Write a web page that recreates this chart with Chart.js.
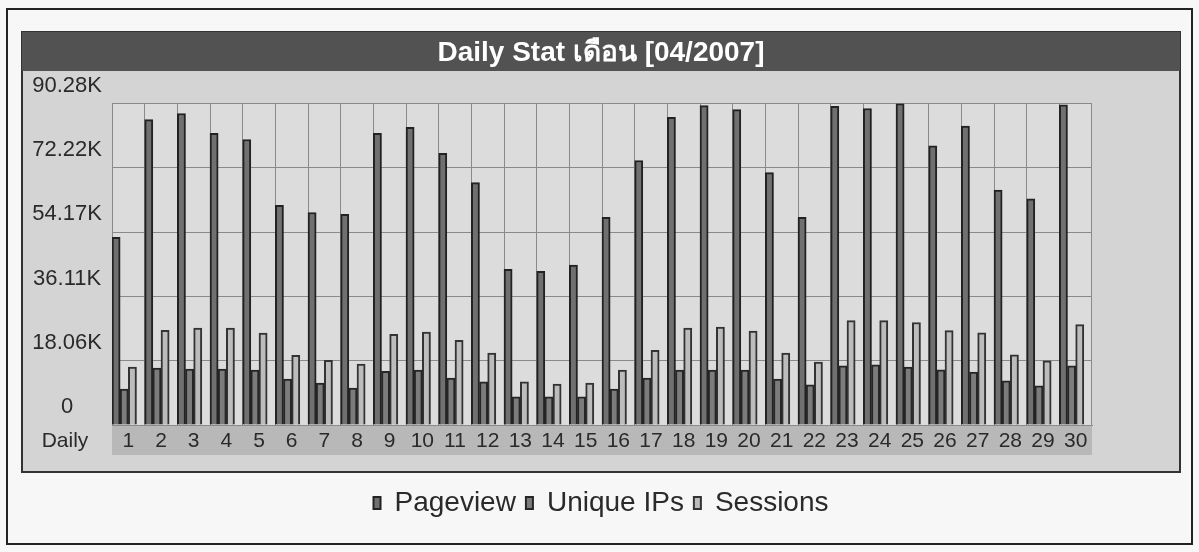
<!DOCTYPE html>
<html>
<head>
<meta charset="utf-8">
<script src="https://cdn.jsdelivr.net/npm/chart.js@4.4.1/dist/chart.umd.min.js"></script>
<style>
  html, body { margin: 0; padding: 0; background: #f7f7f7; }
  #wrap { width: 1199px; height: 552px; position: relative; }
</style>
</head>
<body>
<div id="wrap"><canvas id="chart-daily"></canvas></div>
<script>
var days = ['1', '2', '3', '4', '5', '6', '7', '8', '9', '10', '11', '12', '13', '14', '15',
  '16', '17', '18', '19', '20', '21', '22', '23', '24', '25', '26', '27', '28', '29', '30'];

var pageview = [52700, 85800, 87500, 81900, 80200, 61700, 59700, 59200, 81900, 83600,
  76300, 68100, 43700, 43200, 44900, 58300, 74300, 86400, 89700, 88600,
  70900, 58300, 89500, 88900, 90280, 78400, 84000, 66000, 63500, 89900];

var uniqueIps = [10100, 16000, 15700, 15700, 15400, 12900, 11800, 10400, 15100, 15400,
  13200, 12100, 7900, 7900, 7900, 10100, 13200, 15400, 15400, 15400,
  12900, 11300, 16600, 16900, 16300, 15500, 14900, 12400, 11000, 16600];

var sessions = [16300, 26600, 27200, 27200, 25800, 19600, 18200, 17100, 25500, 26100,
  23800, 20200, 12100, 11500, 11800, 15400, 21000, 27200, 27500, 26400,
  20200, 17700, 29300, 29300, 28800, 26500, 25900, 19700, 18000, 28200];

var yTickLabels = ['0', '18.06K', '36.11K', '54.17K', '72.22K', '90.28K'];
var yStep = 18056;
var yMax = 90280;

var chartTitle = 'Daily Stat เดือน [04/2007]';
var xAxisName = 'Daily';

(function () {
  var canvas = document.getElementById('chart-daily');
  if (!canvas || typeof Chart === 'undefined') {
    return;
  }

  // panel, title bar, plot and label strip behind the chart
  var backdrop = {
    id: 'backdrop',
    beforeDraw: function (chart) {
      var ctx = chart.ctx;
      var area = chart.chartArea;
      ctx.save();
      ctx.fillStyle = '#f7f7f7';
      ctx.fillRect(0, 0, chart.width, chart.height);

      ctx.strokeStyle = '#222';
      ctx.lineWidth = 2;
      ctx.strokeRect(7, 9, 1185, 535);

      ctx.fillStyle = '#d4d4d4';
      ctx.fillRect(22, 32, 1158, 440);
      ctx.strokeStyle = '#333';
      ctx.lineWidth = 2;
      ctx.strokeRect(22, 32, 1158, 440);

      ctx.fillStyle = '#525252';
      ctx.fillRect(22, 32, 1158, 39);

      ctx.fillStyle = '#dcdcdc';
      ctx.fillRect(area.left, area.top, area.right - area.left, area.bottom - area.top);

      ctx.fillStyle = '#b8b8b8';
      ctx.fillRect(area.left, area.bottom, area.right - area.left, 30);
      ctx.restore();
    },
    afterDraw: function (chart) {
      var ctx = chart.ctx;
      var area = chart.chartArea;
      ctx.save();
      ctx.fillStyle = '#2a2a2a';
      ctx.font = '21px "Liberation Sans", Arial, sans-serif';
      ctx.textAlign = 'center';
      ctx.textBaseline = 'middle';
      ctx.fillText(xAxisName, 65, area.bottom + 16);
      ctx.restore();
    },
  };

  new Chart(canvas, {
    type: 'bar',
    data: {
      labels: days,
      datasets: [
        {
          label: 'Pageview',
          data: pageview,
          backgroundColor: '#707070',
          borderColor: '#222222',
          borderWidth: 2,
        },
        {
          label: 'Unique IPs',
          data: uniqueIps,
          backgroundColor: '#7c7c7c',
          borderColor: '#262626',
          borderWidth: 2,
        },
        {
          label: 'Sessions',
          data: sessions,
          backgroundColor: '#bcbcbc',
          borderColor: '#333333',
          borderWidth: 2,
        },
        {
          // empty slot so the three bars sit at the left of each day
          label: '',
          data: [],
        },
      ],
    },
    options: {
      responsive: true,
      maintainAspectRatio: false,
      animation: false,
      categoryPercentage: 1,
      barPercentage: 1,
      layout: { padding: { left: 22, right: 19, top: 32, bottom: 25 } },
      plugins: {
        title: {
          display: true,
          text: chartTitle,
          color: '#ffffff',
          font: { family: '"Liberation Sans", Arial, sans-serif', size: 28, weight: 'bold' },
          padding: { top: 4, bottom: 34 },
        },
        legend: {
          position: 'bottom',
          labels: {
            color: '#2a2a2a',
            font: { family: '"Liberation Sans", Arial, sans-serif', size: 28 },
            boxWidth: 7,
            boxHeight: 12,
            padding: 10,
            filter: function (item) {
              return item.text !== '';
            },
          },
        },
        tooltip: { enabled: false },
      },
      scales: {
        x: {
          grid: { color: '#8a8a8a', lineWidth: 1, drawTicks: false },
          border: { color: '#8a8a8a' },
          ticks: {
            color: '#2a2a2a',
            font: { family: '"Liberation Sans", Arial, sans-serif', size: 21 },
            autoSkip: false,
            maxRotation: 0,
            padding: 4,
          },
          afterFit: function (scale) {
            scale.height = 54;
          },
        },
        y: {
          min: 0,
          max: yMax,
          grid: { color: '#8a8a8a', lineWidth: 1, drawTicks: false },
          border: { color: '#8a8a8a' },
          ticks: {
            stepSize: yStep,
            color: '#2a2a2a',
            font: { family: '"Liberation Sans", Arial, sans-serif', size: 22 },
            crossAlign: 'center',
            padding: 10,
            labelOffset: -18,
            callback: function (value, index) {
              return yTickLabels[index];
            },
          },
          afterFit: function (scale) {
            scale.width = 90;
          },
        },
        yRight: {
          position: 'right',
          display: true,
          grid: { display: false },
          border: { display: false },
          ticks: { display: false },
          afterFit: function (scale) {
            scale.width = 88;
          },
        },
      },
    },
    plugins: [backdrop],
  });
})();
</script>
</body>
</html>
